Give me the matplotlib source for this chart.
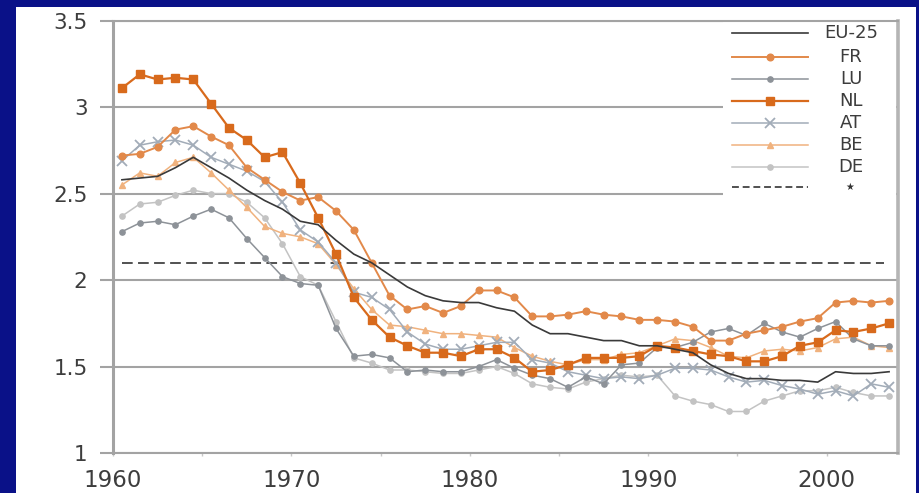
import matplotlib
matplotlib.use("Agg")
import matplotlib.pyplot as plt
from matplotlib.lines import Line2D
from matplotlib.patches import Rectangle

plt.rcParams['font.family'] = ['DejaVu Sans']

years = list(range(1960, 2004))

EU25 = [2.58, 2.59, 2.60, 2.65, 2.71, 2.65, 2.59, 2.52, 2.46, 2.41,
        2.34, 2.32, 2.23, 2.15, 2.10, 2.03, 1.96, 1.91, 1.88, 1.87,
        1.87, 1.84, 1.82, 1.74, 1.69, 1.69, 1.67, 1.65, 1.65, 1.62,
        1.62, 1.60, 1.58, 1.51, 1.46, 1.43, 1.43, 1.42, 1.42, 1.41,
        1.47, 1.46, 1.46, 1.47]
FR = [2.72, 2.73, 2.77, 2.87, 2.89, 2.83, 2.78, 2.65, 2.58, 2.51,
      2.46, 2.48, 2.40, 2.29, 2.10, 1.91, 1.83, 1.85, 1.81, 1.85,
      1.94, 1.94, 1.90, 1.79, 1.79, 1.80, 1.82, 1.80, 1.79, 1.77,
      1.77, 1.76, 1.73, 1.65, 1.65, 1.69, 1.71, 1.73, 1.76, 1.78,
      1.87, 1.88, 1.87, 1.88]
LU = [2.28, 2.33, 2.34, 2.32, 2.37, 2.41, 2.36, 2.24, 2.13, 2.02,
      1.98, 1.97, 1.72, 1.56, 1.57, 1.55, 1.47, 1.48, 1.47, 1.47,
      1.50, 1.54, 1.49, 1.45, 1.43, 1.38, 1.44, 1.40, 1.51, 1.52,
      1.61, 1.61, 1.64, 1.70, 1.72, 1.68, 1.75, 1.70, 1.67, 1.72,
      1.76, 1.66, 1.62, 1.62]
NL = [3.11, 3.19, 3.16, 3.17, 3.16, 3.02, 2.88, 2.81, 2.71, 2.74,
      2.56, 2.36, 2.15, 1.90, 1.77, 1.67, 1.62, 1.58, 1.58, 1.56,
      1.60, 1.60, 1.55, 1.47, 1.48, 1.51, 1.55, 1.55, 1.55, 1.56,
      1.62, 1.61, 1.59, 1.57, 1.56, 1.53, 1.53, 1.56, 1.62, 1.64,
      1.71, 1.70, 1.72, 1.75]
AT = [2.69, 2.78, 2.80, 2.81, 2.78, 2.71, 2.67, 2.63, 2.57, 2.45,
      2.29, 2.22, 2.10, 1.93, 1.90, 1.83, 1.70, 1.63, 1.60, 1.60,
      1.62, 1.64, 1.64, 1.54, 1.52, 1.47, 1.45, 1.43, 1.44, 1.43,
      1.45, 1.49, 1.49, 1.48, 1.44, 1.41, 1.42, 1.39, 1.37, 1.34,
      1.36, 1.33, 1.40, 1.38]
BE = [2.55, 2.62, 2.60, 2.68, 2.71, 2.62, 2.52, 2.42, 2.31, 2.27,
      2.25, 2.21, 2.09, 1.95, 1.83, 1.74, 1.73, 1.71, 1.69, 1.69,
      1.68, 1.67, 1.61, 1.56, 1.53, 1.51, 1.54, 1.54, 1.57, 1.58,
      1.62, 1.66, 1.65, 1.61, 1.56, 1.55, 1.59, 1.60, 1.59, 1.61,
      1.66, 1.67, 1.62, 1.61]
DE = [2.37, 2.44, 2.45, 2.49, 2.52, 2.50, 2.50, 2.45, 2.36, 2.21,
      2.02, 1.97, 1.76, 1.55, 1.52, 1.48, 1.48, 1.47, 1.46, 1.46,
      1.48, 1.50, 1.46, 1.40, 1.38, 1.37, 1.41, 1.43, 1.45, 1.44,
      1.45, 1.33, 1.30, 1.28, 1.24, 1.24, 1.30, 1.33, 1.36, 1.36,
      1.38, 1.35, 1.33, 1.33]
replacement_level = 2.1

y_ticks = [1, 1.5, 2, 2.5, 3, 3.5]
y_tick_labels = ['1', '1.5', '2', '2.5', '3', '3.5']
x_ticks = [1960, 1970, 1980, 1990, 2000]
x_tick_labels = ['1960', '1970', '1980', '1990', '2000']

W, H = 919, 493
fig = plt.figure(figsize=(W / 100, H / 100), dpi=100, facecolor='#0a1188')
# white inner panel
fig.add_artist(Rectangle((16 / W, 0), 900 / W, (H - 7) / H,
                         transform=fig.transFigure, facecolor='white',
                         edgecolor='none', zorder=-10))

ax_l, ax_r, ax_t, ax_b = 113, 898, 20.7, 453
ax = fig.add_axes([ax_l / W, (H - ax_b) / H, (ax_r - ax_l) / W, (ax_b - ax_t) / H])
ax.set_facecolor('none')
ax.set_zorder(5)

xs = [y + 0.5 for y in years]
grid_c = '#a3a3a3'

ax.set_xlim(1960, 2004)
ax.set_ylim(1, 3.5)
ax.set_axisbelow(True)
ax.yaxis.grid(True, color=grid_c, linewidth=1.5, zorder=0.5)
ax.xaxis.grid(False)

series = [
    ('EU-25', EU25, dict(color='#3a3a3a', lw=1.2, marker=None)),
    ('FR', FR, dict(color='#e2894a', lw=1.4, marker='o', ms=4.8, mec='#e2894a')),
    ('LU', LU, dict(color='#8d9298', lw=1.1, marker='o', ms=3.8, mec='#8d9298')),
    ('NL', NL, dict(color='#d86a1c', lw=1.6, marker='s', ms=5.3, mec='#d86a1c')),
    ('AT', AT, dict(color='#a2acb8', lw=1.1, marker='x', ms=6.5, mew=1.3)),
    ('BE', BE, dict(color='#f0b27e', lw=1.1, marker='^', ms=3.8, mec='#f0b27e')),
    ('DE', DE, dict(color='#c3c3c3', lw=1.1, marker='o', ms=3.8, mec='#c3c3c3')),
]
draw_order = ['DE', 'BE', 'AT', 'LU', 'FR', 'NL', 'EU-25']
lookup = {n: (v, s) for n, v, s in series}
for z, name in enumerate(draw_order):
    vals, st = lookup[name]
    ax.plot(xs, vals, zorder=3 + z, **st)

ax.plot([xs[0], xs[-1] - 0.3], [replacement_level, replacement_level],
        color='#222222', lw=1.1, dashes=(7, 3.5), zorder=2.5)

# spines
for s in ['left', 'right', 'top', 'bottom']:
    ax.spines[s].set_color(grid_c)
ax.spines['left'].set_linewidth(2.2)
ax.spines['right'].set_linewidth(2.6)
ax.spines['right'].set_color('#b5b5b5')
ax.spines['top'].set_linewidth(1.5)
ax.spines['bottom'].set_linewidth(1.5)

ax.set_yticks(y_ticks)
ax.set_yticklabels(y_tick_labels)
ax.set_xticks(x_ticks)
ax.set_xticklabels(x_tick_labels)
ax.set_xticks([1965, 1975, 1985, 1995], minor=True)
ax.tick_params(axis='y', length=9.4, width=1.5, color=grid_c, pad=9,
               labelsize=15.5, labelcolor='#3d3d3d')
ax.tick_params(axis='x', which='both', length=2.5, width=1, color='#c8c8c8',
               direction='out', pad=9, labelsize=16.5, labelcolor='#3d3d3d')

# legend panel (white box hiding gridlines)
def fx(px):
    return (px - ax_l) / (ax_r - ax_l)

def fy(py):
    return (ax_b - py) / (ax_b - ax_t)

ax.add_patch(Rectangle((fx(723), fy(200)), fx(896) - fx(723), fy(22) - fy(200),
                       transform=ax.transAxes, facecolor='white',
                       edgecolor='none', zorder=1))

legend_names = ['EU-25', 'FR', 'LU', 'NL', 'AT', 'BE', 'DE', '*']
row_y = [33, 57, 79, 101, 123, 145, 167, 187]
for name, py in zip(legend_names, row_y):
    if name == '*':
        ln = Line2D([fx(732), fx(808)], [fy(py), fy(py)], transform=ax.transAxes,
                    color='#222222', lw=1.1, dashes=(4.5, 2.5), clip_on=False, zorder=10)
        ax.add_line(ln)
        ax.text(fx(850), fy(py), '\u2605', transform=ax.transAxes, ha='center',
                va='center', fontsize=7, color='#333333', zorder=10)
        continue
    vals, st = lookup[name]
    ln = Line2D([fx(732), fx(770), fx(808)], [fy(py)] * 3, transform=ax.transAxes,
                markevery=[1], clip_on=False, zorder=10, **st)
    ax.add_line(ln)
    ax.text(fx(851), fy(py), name, transform=ax.transAxes, ha='center',
            va='center', fontsize=13, color='#3c3c3c', zorder=10)

fig.savefig('out.png', dpi=100, facecolor=fig.get_facecolor())
